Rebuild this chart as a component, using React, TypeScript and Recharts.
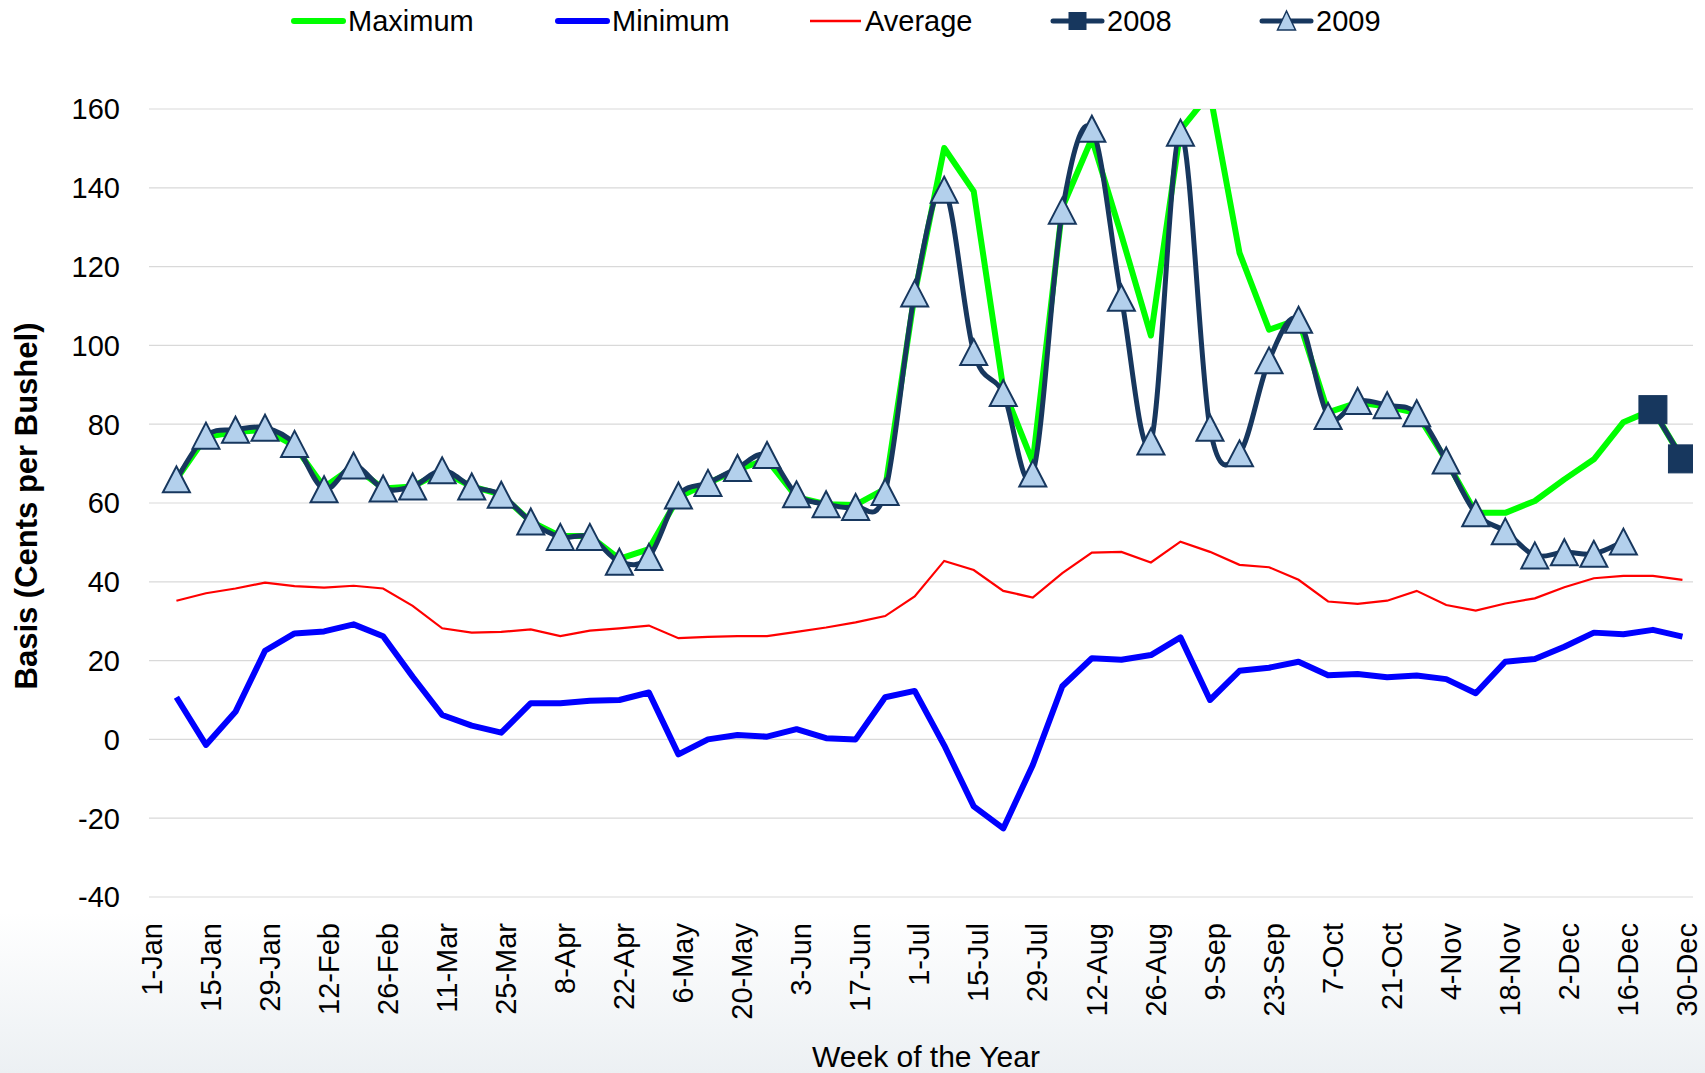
import React from 'react';
import { LineChart, Line, XAxis, YAxis, CartesianGrid } from 'recharts';

// Weekly observation dates (2008 calendar, leap year)
const weeks = [
  '7-Jan', '14-Jan', '21-Jan', '28-Jan', '4-Feb', '11-Feb', '18-Feb', '25-Feb',
  '3-Mar', '10-Mar', '17-Mar', '24-Mar', '31-Mar', '7-Apr', '14-Apr', '21-Apr', '28-Apr',
  '5-May', '12-May', '19-May', '26-May', '2-Jun', '9-Jun', '16-Jun', '23-Jun', '30-Jun',
  '7-Jul', '14-Jul', '21-Jul', '28-Jul', '4-Aug', '11-Aug', '18-Aug', '25-Aug',
  '1-Sep', '8-Sep', '15-Sep', '22-Sep', '29-Sep', '6-Oct', '13-Oct', '20-Oct', '27-Oct',
  '3-Nov', '10-Nov', '17-Nov', '24-Nov', '1-Dec', '8-Dec', '15-Dec', '22-Dec', '29-Dec',
];

const maximum = [
  66.0, 76.8, 78.0, 78.6, 74.5, 64.0, 69.3, 63.7, 64.2, 68.0, 64.2, 62.1, 55.3,
  51.6, 51.6, 45.8, 48.3, 61.5, 65.0, 68.5, 71.0, 61.5, 59.7, 59.5, 63.6, 113.0,
  150.1, 139.1, 89.0, 70.4, 135.0, 152.5, 128.0, 102.5, 154.7, 164.0, 123.5, 104.0,
  106.6, 83.0, 85.5, 84.5, 82.8, 70.8, 57.5, 57.5, 60.5, 66.0, 71.1, 80.5, 83.7, 71.2,
];

const minimum = [
  10.7, -1.4, 7.0, 22.5, 26.9, 27.4, 29.2, 26.2, 15.9, 6.2, 3.5, 1.7, 9.2,
  9.2, 9.8, 10.0, 11.9, -3.8, 0.0, 1.1, 0.7, 2.6, 0.3, 0.0, 10.7, 12.3,
  -1.5, -17.0, -22.6, -6.5, 13.5, 20.6, 20.2, 21.4, 25.9, 10.0, 17.4, 18.2,
  19.7, 16.3, 16.6, 15.8, 16.2, 15.3, 11.7, 19.7, 20.4, 23.5, 27.1, 26.7, 27.8, 26.1,
];

const average = [
  35.2, 37.1, 38.3, 39.8, 38.9, 38.5, 39.0, 38.3, 33.9, 28.2, 27.1, 27.3, 27.9,
  26.2, 27.6, 28.2, 28.9, 25.7, 26.0, 26.2, 26.2, 27.3, 28.4, 29.7, 31.3, 36.3,
  45.3, 43.0, 37.7, 36.0, 42.2, 47.4, 47.6, 44.9, 50.2, 47.6, 44.3, 43.7,
  40.5, 35.0, 34.4, 35.2, 37.7, 34.1, 32.7, 34.5, 35.8, 38.6, 40.9, 41.5, 41.5, 40.5,
];

const basis2008 = [
  null, null, null, null, null, null, null, null, null, null, null, null, null,
  null, null, null, null, null, null, null, null, null, null, null, null, null,
  null, null, null, null, null, null, null, null, null, null, null, null,
  null, null, null, null, null, null, null, null, null, null, null, null, 83.7, 71.2,
];

const basis2009 = [
  66.0, 77.1, 78.6, 79.1, 75.0, 63.5, 69.5, 63.7, 64.2, 68.3, 64.2, 62.1, 55.3,
  51.4, 51.4, 45.1, 46.3, 61.9, 65.1, 68.9, 72.2, 62.2, 59.7, 59.0, 62.8, 113.2,
  139.5, 98.3, 87.9, 67.5, 134.2, 155.0, 112.1, 75.6, 154.0, 79.1, 72.6, 96.2,
  106.5, 82.1, 85.9, 84.8, 82.8, 70.8, 57.4, 52.8, 46.7, 47.5, 47.1, 50.2, null, null,
];

const tickLabels = [
  '1-Jan', '15-Jan', '29-Jan', '12-Feb', '26-Feb', '11-Mar', '25-Mar', '8-Apr', '22-Apr',
  '6-May', '20-May', '3-Jun', '17-Jun', '1-Jul', '15-Jul', '29-Jul', '12-Aug', '26-Aug',
  '9-Sep', '23-Sep', '7-Oct', '21-Oct', '4-Nov', '18-Nov', '2-Dec', '16-Dec', '30-Dec',
];

const yTicks = [-40, -20, 0, 20, 40, 60, 80, 100, 120, 140, 160];

const seriesNames = ['Maximum', 'Minimum', 'Average', '2008', '2009'];

// ---- helpers ----
const MONTHS = ['Jan', 'Feb', 'Mar', 'Apr', 'May', 'Jun', 'Jul', 'Aug', 'Sep', 'Oct', 'Nov', 'Dec'];
const CUM_DAYS = [0, 31, 60, 91, 121, 152, 182, 213, 244, 274, 305, 335]; // leap year
const dayOfYear = (s: string) => {
  const [d, m] = s.split('-');
  return CUM_DAYS[MONTHS.indexOf(m)] + Number(d);
};

const data = weeks.map((w, i) => ({
  day: dayOfYear(w),
  label: w,
  max: maximum[i],
  min: minimum[i],
  avg: average[i],
  y2008: basis2008[i],
  y2009: basis2009[i],
}));

const tickDays = tickLabels.map(dayOfYear);
const labelByDay: Record<number, string> = {};
tickLabels.forEach((l) => {
  labelByDay[dayOfYear(l)] = l;
});

// Excel-like smoothed line (Catmull-Rom style bezier)
function excelSmooth(context: any) {
  let pts: number[][] = [];
  return {
    areaStart() {},
    areaEnd() {},
    lineStart() {
      pts = [];
    },
    point(x: number, y: number) {
      pts.push([+x, +y]);
    },
    lineEnd() {
      const n = pts.length;
      if (n === 0) return;
      context.moveTo(pts[0][0], pts[0][1]);
      if (n === 1) {
        context.lineTo(pts[0][0], pts[0][1]);
        return;
      }
      for (let i = 0; i < n - 1; i++) {
        const p0 = pts[Math.max(0, i - 1)];
        const p1 = pts[i];
        const p2 = pts[i + 1];
        const p3 = pts[Math.min(n - 1, i + 2)];
        const c1x = p1[0] + (p2[0] - p0[0]) / 6;
        const c1y = p1[1] + (p2[1] - p0[1]) / 6;
        const c2x = p2[0] - (p3[0] - p1[0]) / 6;
        const c2y = p2[1] - (p3[1] - p1[1]) / 6;
        context.bezierCurveTo(c1x, c1y, c2x, c2y, p2[0], p2[1]);
      }
    },
  };
}

const FONT = '"Liberation Sans", Arial, Helvetica, sans-serif';
const NAVY = '#17375E';
const TRI_FILL = '#B3D0EC';
const GREEN = '#00FF00';
const BLUE = '#0000FF';
const RED = '#FF0000';

const W = 1705;
const H = 1073;
const PLOT_LEFT = 149;
const PLOT_TOP = 109;
const PLOT_BOTTOM = 897;

const legendLefts = [291, 555, 808, 1050, 1259];

const renderTriangle = (props: any) => {
  const { cx, cy, key, index } = props;
  if (cx == null || cy == null || props.value == null || (Array.isArray(props.value) && props.value[1] == null)) {
    return <g key={key ?? `t-${index}`} />;
  }
  const pts = `${cx},${cy - 13} ${cx - 13.5},${cy + 13} ${cx + 13.5},${cy + 13}`;
  return (
    <polygon
      key={key ?? `t-${index}`}
      points={pts}
      fill={TRI_FILL}
      stroke={NAVY}
      strokeWidth={2}
      strokeLinejoin="miter"
    />
  );
};

const renderSquare = (props: any) => {
  const { cx, cy, key, index } = props;
  if (cx == null || cy == null || props.value == null || (Array.isArray(props.value) && props.value[1] == null)) {
    return <g key={key ?? `s-${index}`} />;
  }
  return (
    <rect
      key={key ?? `s-${index}`}
      x={cx - 14}
      y={cy - 14}
      width={28}
      height={28}
      fill={NAVY}
      stroke={NAVY}
      strokeWidth={1}
    />
  );
};

const XTick = (props: any) => {
  const { x, payload } = props;
  const label = labelByDay[payload.value] ?? '';
  const yEnd = 923;
  return (
    <text
      x={x}
      y={yEnd}
      dy="0.36em"
      transform={`rotate(-90, ${x}, ${yEnd})`}
      textAnchor="end"
      fontFamily={FONT}
      fontSize={29}
      fill="#000"
    >
      {label}
    </text>
  );
};

const YTick = (props: any) => {
  const { y, payload } = props;
  return (
    <text
      x={120}
      y={y}
      dy="0.36em"
      textAnchor="end"
      fontFamily={FONT}
      fontSize={29}
      fill="#000"
    >
      {payload.value}
    </text>
  );
};

const YTitle = () => (
  <text
    x={37}
    y={506}
    transform="rotate(-90, 37, 506)"
    textAnchor="middle"
    fontFamily={FONT}
    fontWeight="bold"
    fontSize={31}
    fill="#000"
  >
    Basis (Cents per Bushel)
  </text>
);

const XTitle = () => (
  <text
    x={926}
    y={1067}
    textAnchor="middle"
    fontFamily={FONT}
    fontSize={30}
    fill="#000"
  >
    Week of the Year
  </text>
);

const LegendIcon = ({ name }: { name: string }) => {
  const w = 55;
  const h = 30;
  const cy = h / 2;
  if (name === 'Maximum' || name === 'Minimum') {
    return (
      <svg width={w} height={h}>
        <line x1={3} y1={cy} x2={w - 3} y2={cy} stroke={name === 'Maximum' ? GREEN : BLUE} strokeWidth={6} strokeLinecap="round" />
      </svg>
    );
  }
  if (name === 'Average') {
    return (
      <svg width={w} height={h}>
        <line x1={2} y1={cy} x2={w - 2} y2={cy} stroke={RED} strokeWidth={2.5} />
      </svg>
    );
  }
  if (name === '2008') {
    return (
      <svg width={w} height={h}>
        <line x1={3} y1={cy} x2={w - 3} y2={cy} stroke={NAVY} strokeWidth={5} strokeLinecap="round" />
        <rect x={w / 2 - 9} y={cy - 9} width={18} height={18} fill={NAVY} />
      </svg>
    );
  }
  return (
    <svg width={w} height={h}>
      <line x1={3} y1={cy} x2={w - 3} y2={cy} stroke={NAVY} strokeWidth={5} strokeLinecap="round" />
      <polygon points={`${w / 2},${cy - 10} ${w / 2 - 9},${cy + 9} ${w / 2 + 9},${cy + 9}`} fill={TRI_FILL} stroke={NAVY} strokeWidth={1.5} />
    </svg>
  );
};

const ChartLegend = () => (
  <div style={{ position: 'absolute', left: 0, top: 5, width: W, height: 32 }}>
    {seriesNames.map((n, i) => (
      <div
        key={n}
        style={{
          position: 'absolute',
          left: legendLefts[i],
          top: 0,
          height: 32,
          display: 'flex',
          alignItems: 'center',
          fontFamily: FONT,
          fontSize: 29,
          lineHeight: 1,
          color: '#000',
          whiteSpace: 'nowrap',
        }}
      >
        <LegendIcon name={n} />
        <span style={{ marginLeft: 2 }}>{n}</span>
      </div>
    ))}
  </div>
);

export default function App() {
  return (
    <div
      style={{
        position: 'absolute',
        left: 0,
        top: 0,
        width: W,
        height: H,
        overflow: 'hidden',
        background: 'linear-gradient(to bottom, #FFFFFF 0%, #FFFFFF 85%, #ECF0F3 100%)',
      }}
    >
      <LineChart
        width={W}
        height={H}
        data={data}
        margin={{ top: PLOT_TOP, right: 12, bottom: 0, left: 0 }}
      >
        <CartesianGrid vertical={false} stroke="#D9D9D9" strokeWidth={1.2} />
        <XAxis
          type="number"
          dataKey="day"
          domain={[0.5, 366.5]}
          ticks={tickDays}
          interval={0}
          allowDataOverflow
          axisLine={false}
          tickLine={false}
          height={H - PLOT_BOTTOM}
          tick={<XTick />}
          label={<XTitle />}
        />
        <YAxis
          type="number"
          domain={[-40, 160]}
          ticks={yTicks}
          interval={0}
          allowDataOverflow
          axisLine={false}
          tickLine={false}
          width={PLOT_LEFT}
          tick={<YTick />}
          label={<YTitle />}
        />
        <Line
          type="linear"
          dataKey="max"
          name="Maximum"
          stroke={GREEN}
          strokeWidth={6}
          dot={false}
          activeDot={false}
          isAnimationActive={false}
          strokeLinejoin="round"
        />
        <Line
          type="linear"
          dataKey="min"
          name="Minimum"
          stroke={BLUE}
          strokeWidth={6}
          dot={false}
          activeDot={false}
          isAnimationActive={false}
          strokeLinejoin="round"
        />
        <Line
          type="linear"
          dataKey="avg"
          name="Average"
          stroke={RED}
          strokeWidth={2.2}
          dot={false}
          activeDot={false}
          isAnimationActive={false}
        />
        <Line
          type="linear"
          dataKey="y2008"
          name="2008"
          stroke={NAVY}
          strokeWidth={5}
          dot={renderSquare}
          activeDot={false}
          isAnimationActive={false}
        />
        <Line
          type={excelSmooth as any}
          dataKey="y2009"
          name="2009"
          stroke={NAVY}
          strokeWidth={5}
          dot={renderTriangle}
          activeDot={false}
          isAnimationActive={false}
        />
      </LineChart>
      <ChartLegend />
    </div>
  );
}
